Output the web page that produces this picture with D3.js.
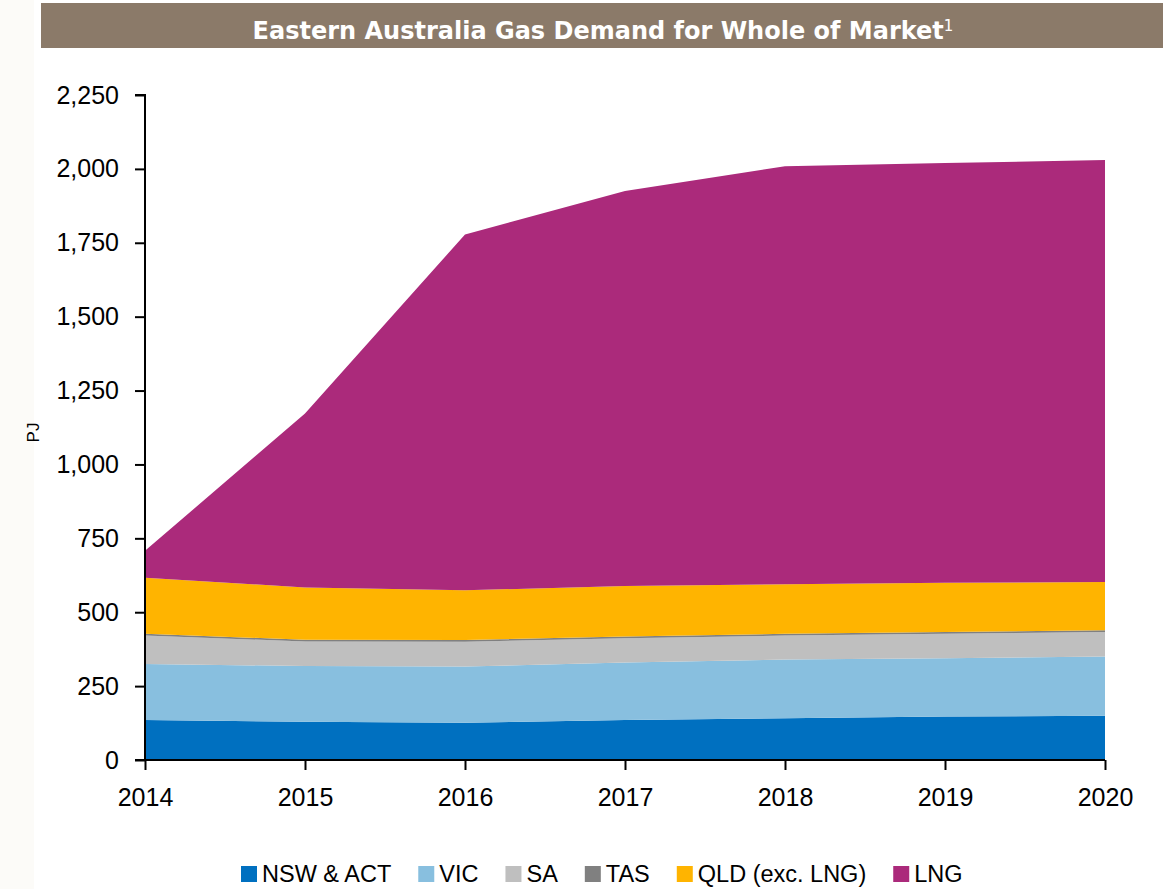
<!DOCTYPE html>
<html>
<head>
<meta charset="utf-8">
<script src="https://cdn.jsdelivr.net/npm/d3@7"></script>
<style>
  html, body { margin: 0; padding: 0; background: #ffffff; }
  svg { display: block; }
</style>
</head>
<body>
<svg id="chart" width="1163" height="889"></svg>
<script>
const years = [2014, 2015, 2016, 2017, 2018, 2019, 2020];
const seriesNames = ["NSW & ACT", "VIC", "SA", "TAS", "QLD (exc. LNG)", "LNG"];
const seriesColors = ["#0070c0", "#88bfdf", "#bfbfbf", "#808080", "#ffb400", "#ab2a7b"];
const nswAct = [135, 129, 126, 135, 141, 147, 150];
const vic    = [190, 189, 190, 195, 199, 197, 200];
const sa     = [96, 83, 84, 82, 81, 83, 83];
const tas    = [6, 6, 6, 6, 6, 6, 6];
const qld    = [190, 177, 168, 171, 168, 167, 163];
const lng    = [91, 588, 1204, 1336, 1414, 1420, 1428];
const yTicks = [0, 250, 500, 750, 1000, 1250, 1500, 1750, 2000, 2250];
const titleText = "Eastern Australia Gas Demand for Whole of Market";
const titleSup = "1";
const yLabel = "PJ";

const seriesValues = [nswAct, vic, sa, tas, qld, lng];
const rows = years.map((y, i) => {
  const r = { year: y };
  seriesNames.forEach((n, k) => r[n] = seriesValues[k][i]);
  return r;
});

const svg = d3.select("#chart");
const W = 1163, H = 889;
const m = { left: 145, right: 58, top: 95, bottom: 129 };

// background left strip
svg.append("rect").attr("x", 0).attr("y", 0).attr("width", 34).attr("height", H).attr("fill", "#fcfbf8");

// title bar
svg.append("rect").attr("x", 41).attr("y", 3).attr("width", W - 41).attr("height", 45).attr("fill", "#8b7a69");
const t = svg.append("text")
  .attr("x", 603).attr("y", 39)
  .attr("text-anchor", "middle")
  .attr("fill", "#ffffff")
  .style("font-family", "'DejaVu Sans', Verdana, sans-serif")
  .style("font-weight", "bold")
  .style("font-size", "24px");
t.append("tspan").text(titleText);
t.append("tspan").text(titleSup).attr("dy", -8).style("font-size", "15px").style("font-weight", "normal");

const x = d3.scaleLinear().domain([2014, 2020]).range([m.left, W - m.right]);
const y = d3.scaleLinear().domain([0, 2250]).range([H - m.bottom, m.top]);

const stack = d3.stack().keys(seriesNames);
const stacked = stack(rows);
const area = d3.area()
  .x(d => x(d.data.year))
  .y0(d => y(d[0]))
  .y1(d => y(d[1]));

svg.append("g").selectAll("path")
  .data(stacked)
  .join("path")
  .attr("d", area)
  .attr("fill", (d, i) => seriesColors[i]);

const fontAxis = "'Liberation Sans', Arial, sans-serif";

// y axis
const yAxis = d3.axisLeft(y).tickValues(yTicks).tickSize(10).tickPadding(16)
  .tickFormat(d3.format(","));
const gy = svg.append("g").attr("transform", `translate(${m.left},0)`).call(yAxis);
gy.select(".domain").attr("stroke", "#000").attr("stroke-width", 2).attr("d", `M-10,${y(2250)}H0V${y(0)}H-10`);
gy.selectAll(".tick line").attr("stroke", "#000").attr("stroke-width", 2);
gy.selectAll(".tick text").style("font-family", fontAxis).style("font-size", "25px").attr("fill", "#000");

// x axis
const xAxis = d3.axisBottom(x).tickValues(years).tickSize(10).tickPadding(18).tickFormat(d3.format("d"));
const gx = svg.append("g").attr("transform", `translate(0,${H - m.bottom})`).call(xAxis);
gx.select(".domain").attr("stroke", "#000").attr("stroke-width", 2).attr("d", `M${x(2014)},0H${x(2020)}`);
gx.selectAll(".tick line").attr("stroke", "#000").attr("stroke-width", 2);
gx.selectAll(".tick text").style("font-family", fontAxis).style("font-size", "25px").attr("fill", "#000");

// y label
svg.append("text")
  .attr("transform", `translate(39,${(y(0) + y(2250)) / 2 + 5}) rotate(-90)`)
  .attr("text-anchor", "middle")
  .style("font-family", fontAxis).style("font-size", "17px")
  .text(yLabel);

// legend
const lg = svg.append("g");
let lx = 241;
const ly = 874;
seriesNames.forEach((n, i) => {
  lg.append("rect").attr("x", lx).attr("y", ly - 8).attr("width", 16).attr("height", 16).attr("fill", seriesColors[i]);
  const tx = lg.append("text").attr("x", lx + 21).attr("y", ly + 8)
    .style("font-family", fontAxis).style("font-size", "23.5px").attr("fill", "#000").text(n);
  lx = lx + 21 + tx.node().getComputedTextLength() + 27;
});
</script>
</body>
</html>
